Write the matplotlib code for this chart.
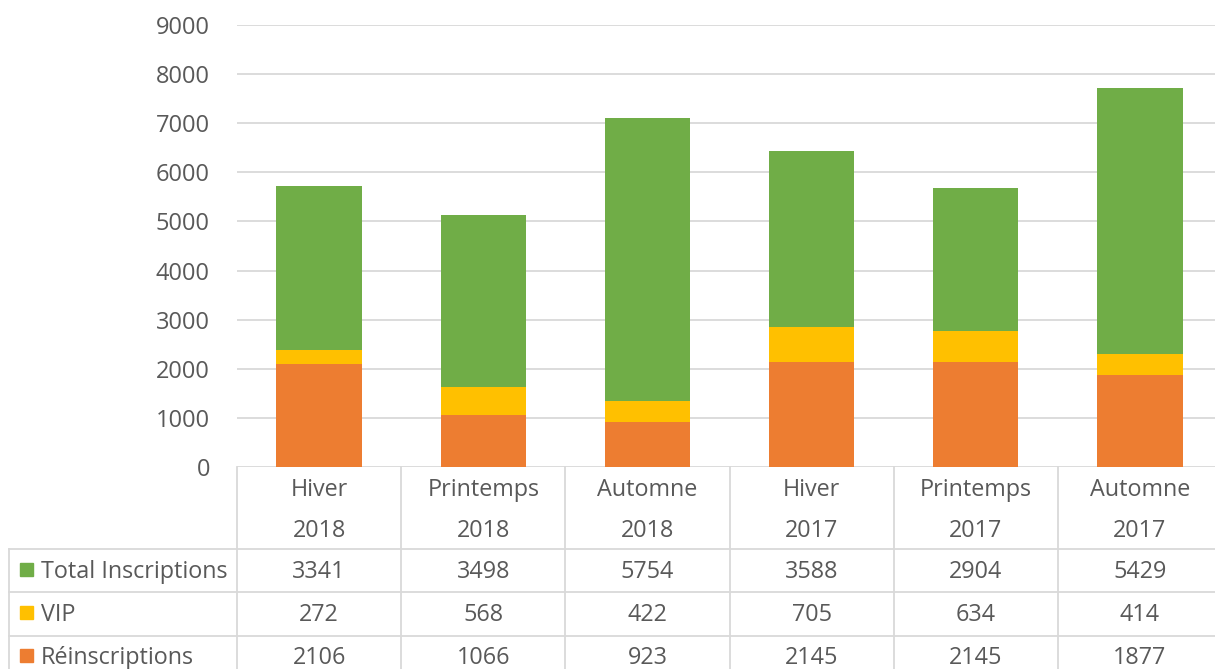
import matplotlib
matplotlib.use("Agg")
import matplotlib.pyplot as plt
from matplotlib.transforms import blended_transform_factory
from matplotlib.patches import Rectangle

seasons = ["Hiver", "Printemps", "Automne", "Hiver", "Printemps", "Automne"]
years = ["2018", "2018", "2018", "2017", "2017", "2017"]
reinscriptions = [2106, 1066, 923, 2145, 2145, 1877]
vip = [272, 568, 422, 705, 634, 414]
total_inscriptions = [3341, 3498, 5754, 3588, 2904, 5429]
series_names = ["Total Inscriptions", "VIP", "Réinscriptions"]
yticks = [0, 1000, 2000, 3000, 4000, 5000, 6000, 7000, 8000, 9000]

c_orange = "#ED7D31"
c_yellow = "#FFC000"
c_green = "#70AD47"
txt = "#595959"
grid = "#D9D9D9"

plt.rcParams['font.family'] = ['Open Sans', 'DejaVu Sans']

W, H = 1215, 669
fig = plt.figure(figsize=(W / 100, H / 100), dpi=100)

def fy(py):
    return 1 - py / H

x0, x1 = 237, 1222
y_top, y_zero = 25, 467
ax = fig.add_axes([x0 / W, fy(y_zero), (x1 - x0) / W, (y_zero - y_top) / H])

xs = list(range(len(seasons)))
bw = 0.52
ax.bar(xs, reinscriptions, bw, color=c_orange, zorder=3)
bottom2 = [a for a in reinscriptions]
ax.bar(xs, vip, bw, bottom=bottom2, color=c_yellow, zorder=3)
bottom3 = [a + b for a, b in zip(reinscriptions, vip)]
ax.bar(xs, total_inscriptions, bw, bottom=bottom3, color=c_green, zorder=3)

ax.set_xlim(-0.5, len(seasons) - 0.5)
ax.set_ylim(0, 9000)
ax.set_yticks(yticks)
ax.set_yticklabels([str(t) for t in yticks])
ax.yaxis.grid(True, color=grid, linewidth=1.3, zorder=0)
ax.set_xticks([])
for s in ["top", "right", "left", "bottom"]:
    ax.spines[s].set_visible(False)
ax.tick_params(axis='y', length=0, pad=19.5, labelsize=17, labelcolor=txt)

# data table
tr = blended_transform_factory(ax.transData, fig.transFigure)
ftr = fig.transFigure
lw = 1.3
row_lines = [549, 592, 636]
bottom_px = 680
fig.add_artist(plt.Line2D([x0 / W, x0 / W], [fy(y_zero), fy(bottom_px)], color=grid, lw=lw, transform=ftr))
for k in range(1, len(seasons) + 1):
    xb = k - 0.5
    fig.add_artist(plt.Line2D([xb, xb], [fy(y_zero), fy(bottom_px)], color=grid, lw=lw, transform=tr))
for ry in row_lines:
    fig.add_artist(plt.Line2D([9 / W, 1], [fy(ry), fy(ry)], color=grid, lw=lw, transform=ftr))
fig.add_artist(plt.Line2D([9 / W, 9 / W], [fy(549), fy(bottom_px)], color=grid, lw=lw, transform=ftr))

fs = 16.8
for i in xs:
    fig.text(i, fy(490), seasons[i], transform=tr, ha='center', va='center', fontsize=fs, color=txt)
    fig.text(i, fy(531), years[i], transform=tr, ha='center', va='center', fontsize=fs, color=txt)

rows = [total_inscriptions, vip, reinscriptions]
colors = [c_green, c_yellow, c_orange]
row_y = [572, 615, 658]
for name, vals, col, ry in zip(series_names, rows, colors, row_y):
    fig.add_artist(Rectangle((20 / W, fy(ry + 4)), 13 / W, 13 / H, transform=ftr, color=col))
    fig.text(41 / W, fy(ry), name, ha='left', va='center', fontsize=fs, color=txt)
    for i in xs:
        fig.text(i, fy(ry), str(vals[i]), transform=tr, ha='center', va='center', fontsize=fs, color=txt)

fig.savefig("out.png", dpi=100)
